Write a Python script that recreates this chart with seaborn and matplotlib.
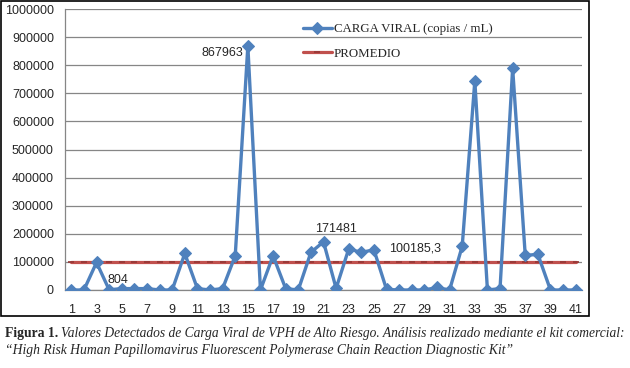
import numpy as np
import pandas as pd
import seaborn as sns
import matplotlib.pyplot as plt
from matplotlib.patches import Rectangle

# Muestras 1..41 y carga viral
muestras = list(range(1, 42))
carga_viral = [0, 0, 98000, 804, 5000, 5000, 5000, 0, 0, 130000,
               5000, 0, 5000, 122000, 867963, 0, 122000, 5000, 0, 134000,
               171481, 6000, 146000, 134000, 143000, 2000, 0, 0, 0, 9000,
               0, 156000, 744000, 0, 5000, 789000, 123000, 127000, 0, 0,
               0]
promedio = 100185.3
etiquetas = [(15, "867963"), (4, "804"), (21, "171481")]

data = pd.DataFrame({"Muestra": muestras, "Carga": carga_viral})
data["Promedio"] = promedio

azul = "#4F81BD"
rojo = "#C0504D"

sns.set_style("white")
plt.rcParams["font.family"] = ["Liberation Sans", "DejaVu Sans"]

fig = plt.figure(figsize=(6.3, 3.68), dpi=100)
ax = fig.add_axes([65 / 630, 1 - 290 / 368, (582 - 65) / 630, (290 - 9) / 368])

# Linea del promedio
sns.lineplot(data=data, x="Muestra", y="Promedio", ax=ax, color=rojo,
             linewidth=2.3, marker="_", markersize=5, markeredgecolor="#943634",
             markeredgewidth=1.2, label="PROMEDIO", zorder=3)

# Serie de carga viral
sns.lineplot(data=data, x="Muestra", y="Carga", ax=ax, color=azul,
             linewidth=2.4, marker="D", markersize=6, markeredgecolor=azul,
             label="CARGA VIRAL (copias / mL)", zorder=4)

ax.set_xlim(0.5, 41.5)
ax.set_ylim(0, 1000000)
ax.set_yticks(np.arange(0, 1000001, 100000))
ax.set_yticklabels([str(v) for v in range(0, 1000001, 100000)], fontsize=9)
ax.set_xticks(muestras[::2])
ax.set_xticklabels([str(m) for m in muestras[::2]], fontsize=9)
ax.set_xticks(np.arange(0.5, 42, 1), minor=True)
ax.tick_params(axis="x", which="major", length=0, pad=10)
ax.tick_params(axis="x", which="minor", length=4, color="#868686", width=0.8)
ax.tick_params(axis="y", length=3, color="#868686", width=0.8, pad=5)
ax.set_xlabel("")
ax.set_ylabel("")
ax.grid(axis="y", color="#868686", linewidth=0.9)
for s in ["top", "right"]:
    ax.spines[s].set_visible(False)
for s in ["left", "bottom"]:
    ax.spines[s].set_color("#868686")
    ax.spines[s].set_linewidth(0.9)

# Etiquetas de datos
for m, txt in etiquetas:
    v = carga_viral[m - 1]
    if m == 15:
        ax.annotate(txt, (m, v), xytext=(-3, -5), textcoords="offset points",
                    ha="right", va="center", fontsize=9)
    elif m == 4:
        ax.annotate(txt, (m, v), xytext=(-1, 3), textcoords="offset points",
                    ha="left", va="bottom", fontsize=9)
    else:
        ax.annotate(txt, (m, v), xytext=(-6, 5), textcoords="offset points",
                    ha="left", va="bottom", fontsize=9)
ax.annotate("100185,3", (26.2, promedio), xytext=(0, 9.5), textcoords="offset points",
            ha="left", va="center", fontsize=9)

# Leyenda
h, l = ax.get_legend_handles_labels()
ax.legend(h[::-1], l[::-1], loc="upper left", bbox_to_anchor=(298 / 630, 1 - 18 / 368),
          bbox_transform=fig.transFigure, frameon=False, handlelength=2.2,
          handletextpad=0.15, labelspacing=0.95, borderaxespad=0,
          prop={"family": "Liberation Serif", "size": 9.3})

# Marco del grafico
fig.add_artist(Rectangle((1 / 630, 1 - 316 / 368), 588 / 630, 315 / 368,
                         transform=fig.transFigure, fill=False,
                         edgecolor="black", linewidth=1.2))

# Pie de figura
t1 = fig.text(5 / 630, 1 - 337 / 368, "Figura 1.", fontsize=9.8, fontweight="bold",
              family="Liberation Serif", va="baseline")
fig.canvas.draw()
bb = t1.get_window_extent()
fig.text(bb.x1 / 630 + 2.5 / 630, 1 - 337 / 368,
         "Valores Detectados de Carga Viral de VPH de Alto Riesgo. Análisis realizado mediante el kit comercial:",
         fontsize=9.75, style="italic", family="Liberation Serif", va="baseline")
fig.text(5 / 630, 1 - 354 / 368,
         "“High Risk Human Papillomavirus Fluorescent Polymerase Chain Reaction Diagnostic Kit”",
         fontsize=9.8, style="italic", family="Liberation Serif", va="baseline")

fig.savefig("out.png", dpi=100)
